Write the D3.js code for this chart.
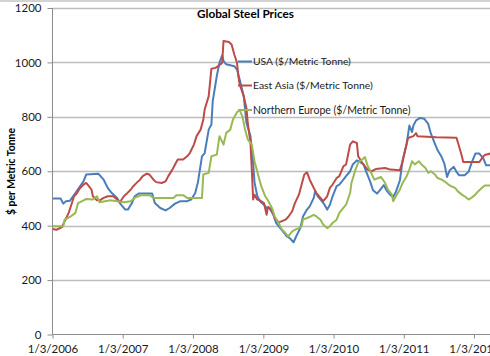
<!DOCTYPE html>
<html><head><meta charset="utf-8">
<script src="https://cdn.jsdelivr.net/npm/d3@7"></script>
<style>html,body{margin:0;padding:0;background:#fff;overflow:hidden}svg{display:block}</style>
</head><body>
<svg id="chart" width="490" height="356"></svg>
<script>
// ---- Data (weeks since 1/3/2006, $ per metric tonne) ----
const startDate = "2006-01-03";
const seriesNames = ["USA ($/Metric Tonne)", "East Asia ($/Metric Tonne)", "Northern Europe ($/Metric Tonne)"];
const xTickLabels = ["1/3/2006","1/3/2007","1/3/2008","1/3/2009","1/3/2010","1/3/2011","1/3/2012"];
const yTickValues = [0,200,400,600,800,1000,1200];

const usaWeeks = [0,6,8,10,13,17,23,25,34,38,41,44,48,50,54,56,59,61,64,74,76,80,84,87,91,95,100,103,106,108,111,113,116,118,119,122,124,126,127,129,135,137,139,142,144,147,149,150,152,154,157,159,161,164,166,170,174,176,179,181,184,186,189,191,194,195,197,200,202,204,206,208,211,213,216,218,221,223,226,228,231,233,236,238,241,243,246,248,251,253,255,258,260,263,265,267,268,270,273,276,279,281,284,286,289,291,293,295,298,300,302,306,309,311,314,317,320,322,325,328];
const usaValues = [500,500,481,490,492,520,563,588,591,569,539,520,502,483,459,459,483,508,518,518,483,465,456,465,481,490,490,496,520,560,655,667,753,772,858,950,999,1026,1005,993,986,974,937,876,778,729,631,560,510,490,477,465,465,440,410,385,361,355,339,361,391,434,459,471,502,526,508,490,477,459,477,508,545,551,569,582,600,625,640,635,625,598,561,530,518,530,549,530,512,506,524,567,640,701,768,744,768,787,796,793,774,738,701,677,652,628,579,604,616,598,585,585,598,628,665,665,646,622,622,625];

const asiaWeeks = [0,3,7,9,12,14,16,18,20,23,25,27,29,30,33,35,38,41,45,48,50,53,55,58,60,63,65,67,70,72,75,77,81,84,86,89,91,93,97,100,102,105,107,110,112,113,116,118,121,123,126,127,131,133,135,137,138,139,142,144,145,147,148,149,150,152,154,157,159,160,163,165,168,170,173,175,178,180,183,185,187,189,191,194,196,199,201,204,206,208,211,213,216,218,221,223,226,227,230,232,234,237,240,247,251,258,260,262,264,268,270,271,285,300,302,304,305,317,319,321,325,328];
const asiaValues = [388,385,395,416,447,477,508,518,535,551,557,545,532,508,493,493,502,508,508,496,486,508,517,532,545,560,569,582,591,588,569,560,557,563,582,606,625,643,643,655,667,698,729,753,790,827,876,977,980,986,999,1079,1075,1066,1029,999,950,919,876,833,778,704,606,496,514,496,493,483,440,469,459,428,412,416,422,432,453,483,514,551,588,596,569,539,520,502,490,508,539,551,575,582,618,625,698,710,704,655,631,618,606,600,608,612,606,604,637,680,722,729,740,729,725,723,690,655,634,634,648,660,665,665];

const europeWeeks = [0,8,9,13,17,19,23,25,30,33,35,39,43,48,53,58,61,66,72,75,90,92,97,100,111,112,116,118,122,124,127,129,132,134,137,139,141,143,145,148,150,153,155,158,160,163,165,168,170,173,175,178,180,183,185,186,189,191,194,196,199,201,204,206,208,211,213,216,218,221,222,225,227,230,232,234,237,239,242,244,247,249,252,253,255,258,260,263,265,267,269,272,274,277,279,281,284,286,289,291,294,296,299,301,304,306,309,311,314,316,319,321,325,328];
const europeValues = [398,398,422,432,447,483,493,498,496,508,486,490,493,490,486,490,502,512,512,502,502,512,512,502,502,588,594,655,661,729,698,741,753,790,817,825,802,753,717,698,637,582,545,508,493,465,434,410,388,373,361,379,385,391,398,422,428,432,440,434,422,404,391,398,410,422,447,465,477,520,557,606,631,643,652,620,590,569,575,579,557,533,514,490,508,533,557,582,606,637,625,637,625,612,594,600,588,575,569,563,551,545,539,526,514,508,496,502,514,526,539,548,548,548];

const seriesColors = ["#4a7ebb", "#be4b48", "#98b954"];

// ---- Build ----
const svg = d3.select("#chart");
const W = 490, H = 356;
const t0 = d3.timeParse("%Y-%m-%d")(startDate);
const toDate = w => d3.timeDay.offset(t0, w * 7);
const tickDates = xTickLabels.map(s => d3.timeParse("%m/%d/%Y")(s));

const x = d3.scaleTime().domain([tickDates[0], tickDates[6]]).range([52.5, 474]);
const y = d3.scaleLinear().domain([0, 1200]).range([334.5, 8]);

const font = "Lato, 'Open Sans', sans-serif";

// outer border (top)
svg.append("line").attr("x1", 0).attr("x2", W).attr("y1", 1).attr("y2", 1)
  .attr("stroke", "#a6a6a6").attr("stroke-width", 1);

// gridlines
svg.append("g").selectAll("line").data(yTickValues.filter(v => v > 0)).join("line")
  .attr("x1", 52.5).attr("x2", W).attr("y1", d => Math.round(y(d)) + 0.5).attr("y2", d => Math.round(y(d)) + 0.5)
  .attr("stroke", "#bdbdbd").attr("stroke-width", 1.3);

// y axis
const yAxis = d3.axisLeft(y).tickValues(yTickValues).tickSize(5).tickPadding(5).tickFormat(d3.format("d"));
const gy = svg.append("g").attr("transform", "translate(52.5,0)").call(yAxis);
gy.select(".domain").attr("stroke", "#8c8c8c").attr("d", `M0,${y(1200)}V${y(0)}`);
gy.selectAll(".tick line").attr("stroke", "#8c8c8c");
gy.selectAll(".tick text").attr("font-family", font).attr("font-size", 11.5).attr("fill", "#1a1a1a").attr("dx", -1);

// x axis
const xAxis = d3.axisBottom(x).tickValues(tickDates).tickSize(4).tickPadding(6).tickFormat(d3.timeFormat("%-m/%-d/%Y"));
const gx = svg.append("g").attr("transform", "translate(0,334.5)").call(xAxis);
gx.select(".domain").attr("stroke", "#8c8c8c").attr("d", `M52.5,0H${W}`);
gx.selectAll(".tick line").attr("stroke", "#8c8c8c");
gx.selectAll(".tick text").attr("font-family", font).attr("font-size", 11.5).attr("fill", "#1a1a1a");

// lines
svg.append("clipPath").attr("id", "clip").append("rect").attr("x", 52.5).attr("y", 0).attr("width", W).attr("height", 340);
const series = [
  {weeks: usaWeeks, values: usaValues},
  {weeks: asiaWeeks, values: asiaValues},
  {weeks: europeWeeks, values: europeValues}
];
const line = d3.line().x(d => x(d.date)).y(d => y(d.v));
const gl = svg.append("g").attr("clip-path", "url(#clip)");
series.forEach((s, i) => {
  const pts = s.weeks.map((w, j) => ({date: toDate(w), v: s.values[j]}));
  gl.append("path").datum(pts).attr("d", line).attr("fill", "none")
    .attr("stroke", seriesColors[i]).attr("stroke-width", 2).attr("stroke-linejoin", "round");
});

// fit helper
function fitWidth(sel, target) {
  const base = +sel.attr("font-size");
  const w = sel.node().getComputedTextLength();
  sel.attr("font-size", base * target / w);
}

// series labels with legend keys
const labelY = [61.5, 85.5, 110];
const labelW = [98, 120, 157.5];
seriesNames.forEach((n, i) => {
  svg.append("line").attr("x1", 238).attr("x2", 252).attr("y1", labelY[i]).attr("y2", labelY[i])
    .attr("stroke", seriesColors[i]).attr("stroke-width", 2);
  const t = svg.append("text").attr("x", 253).attr("y", labelY[i]).attr("dy", "0.35em")
    .attr("font-family", font).attr("font-size", 11).attr("fill", "#1a1a1a").text(n);
  fitWidth(t, labelW[i]);
});

// title
const title = svg.append("text").attr("x", 245.5).attr("y", 18).attr("text-anchor", "middle")
  .attr("font-family", font).attr("font-weight", "bold").attr("font-size", 12).attr("fill", "#000")
  .text("Global Steel Prices");
fitWidth(title, 97);

// y axis title
const yt = svg.append("text").attr("transform", "translate(14.5,171.5) rotate(-90)").attr("text-anchor", "middle")
  .attr("font-family", font).attr("font-weight", "bold").attr("font-size", 11).attr("fill", "#000")
  .text("$ per Metric Tonne");
fitWidth(yt, 87);
</script>
</body></html>
